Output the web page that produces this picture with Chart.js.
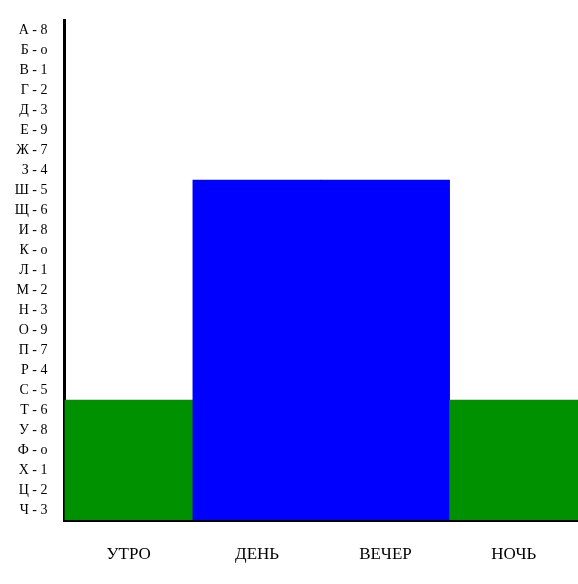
<!DOCTYPE html>
<html>
<head>
<meta charset="utf-8">
<script src="https://cdn.jsdelivr.net/npm/chart.js@4"></script>
<style>
  body { margin: 0; background: #fff; }
  canvas { display: block; }
</style>
</head>
<body>
<canvas id="myGraph" width="578" height="584"></canvas>
<script>
// periods along the bottom
const periods = ["УТРО", "ДЕНЬ", "ВЕЧЕР", "НОЧЬ"];
// bar heights, in rows of the letter scale
const values = [6, 17, 17, 6];
const barColors = ["rgb(0,145,0)", "rgb(0,0,255)", "rgb(0,0,255)", "rgb(0,145,0)"];
// letter labels, top to bottom
const rowLabels = [
  "А - 8", "Б - о", "В - 1", "Г - 2", "Д - 3", "Е - 9", "Ж - 7", "З - 4",
  "Ш - 5", "Щ - 6", "И - 8", "К - о", "Л - 1", "М - 2", "Н - 3", "О - 9",
  "П - 7", "Р - 4", "С - 5", "Т - 6", "У - 8", "Ф - о", "Х - 1", "Ц - 2", "Ч - 3"
];

const ctx = document.getElementById('myGraph');
new Chart(ctx, {
  type: 'bar',
  data: {
    labels: periods,
    datasets: [{
      data: values,
      backgroundColor: barColors,
      borderWidth: 0,
      barPercentage: 1,
      categoryPercentage: 1
    }]
  },
  options: {
    responsive: false,
    animation: false,
    layout: { padding: { top: 20, right: 0, left: 0, bottom: 0 } },
    plugins: { legend: { display: false }, tooltip: { enabled: false } },
    scales: {
      x: {
        z: 1,  // axis lines on top of the bars
        grid: { display: false, drawTicks: false },
        border: { color: '#000', width: 3 },
        ticks: {
          color: '#000',
          padding: 24,
          font: { family: 'Liberation Serif', size: 17 }
        },
        afterFit: (scale) => {
          scale.height = 64;
          scale.paddingLeft = 0;
          scale.paddingRight = 0;
        }
      },
      y: {
        z: 1,
        min: 0,
        max: rowLabels.length,
        grid: { display: false, drawTicks: false },
        border: { color: '#000', width: 3 },
        afterBuildTicks: (scale) => {
          scale.ticks = rowLabels.map((_, i) => ({ value: i + 0.5 }));
        },
        ticks: {
          color: '#000',
          padding: 17,
          autoSkip: false,
          font: { family: 'Liberation Serif', size: 14 },
          callback: (value) => rowLabels[rowLabels.length - 1 - Math.floor(value)]
        },
        afterFit: (scale) => {
          scale.width = 64.5;
          scale.paddingTop = 0;
          scale.paddingBottom = 0;
        }
      }
    }
  }
});
</script>
</body>
</html>
